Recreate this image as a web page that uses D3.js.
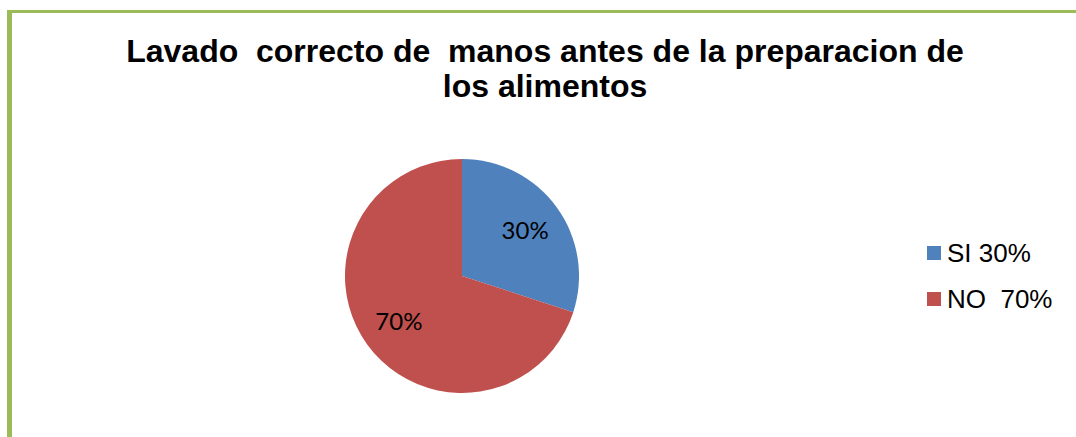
<!DOCTYPE html>
<html><head><meta charset="utf-8">
<script src="https://cdn.jsdelivr.net/npm/d3@7"></script>
<style>html,body{margin:0;padding:0;background:#fff;overflow:hidden}</style>
</head><body>
<svg id="chart" width="1076" height="437"></svg>
<script>
const categories = ["SI", "NO"];
const values = [30, 70];
const legendLabels = ["SI 30%", "NO  70%"];
const dataLabels = ["30%", "70%"];
const titleLines = ["Lavado  correcto de  manos antes de la preparacion de", "los alimentos"];
const colors = ["#4F81BD", "#C0504D"];

const svg = d3.select("#chart");
svg.append("rect").attr("x",0).attr("y",0).attr("width",1076).attr("height",437).attr("fill","#fff");
// frame
svg.append("rect").attr("x",7).attr("y",10).attr("width",1069).attr("height",3).attr("fill","#9BBB59");
svg.append("rect").attr("x",7).attr("y",10).attr("width",5).attr("height",427).attr("fill","#9BBB59");

// title
svg.append("g").selectAll("text").data(titleLines).join("text")
  .attr("x",545).attr("y",(d,i)=>62+i*35)
  .attr("text-anchor","middle")
  .style("font-family","'Liberation Sans', Arial, sans-serif")
  .style("font-weight","bold").style("font-size","32px")
  .style("white-space","pre").attr("xml:space","preserve")
  .attr("fill","#000").text(d=>d);

const cx = 462, cy = 276, r = 117;
const pie = d3.pie().sort(null).value(d=>d)(values);
const arc = d3.arc().innerRadius(0).outerRadius(r);
const labelArc = d3.arc().innerRadius(78).outerRadius(78);
const g = svg.append("g").attr("transform",`translate(${cx},${cy})`);
g.selectAll("path").data(pie).join("path")
  .attr("d",arc).attr("fill",(d,i)=>colors[i]);
g.selectAll("text").data(pie).join("text")
  .attr("transform",d=>`translate(${labelArc.centroid(d)})`)
  .attr("text-anchor","middle").attr("dy","0.36em")
  .style("font-family","Lato, 'Open Sans', sans-serif").style("font-size","24px")
  .attr("fill","#000").text((d,i)=>dataLabels[i]);

// legend
const lg = svg.append("g");
const items = lg.selectAll("g").data(categories).join("g")
  .attr("transform",(d,i)=>`translate(927,${246+i*46})`);
items.append("rect").attr("width",14).attr("height",14).attr("fill",(d,i)=>colors[i]);
items.append("text").attr("x",20).attr("y",16)
  .style("font-family","'Liberation Sans', Arial, sans-serif").style("font-size","26px")
  .style("white-space","pre").attr("xml:space","preserve")
  .attr("fill","#000").text((d,i)=>legendLabels[i]);
</script>
</body></html>
